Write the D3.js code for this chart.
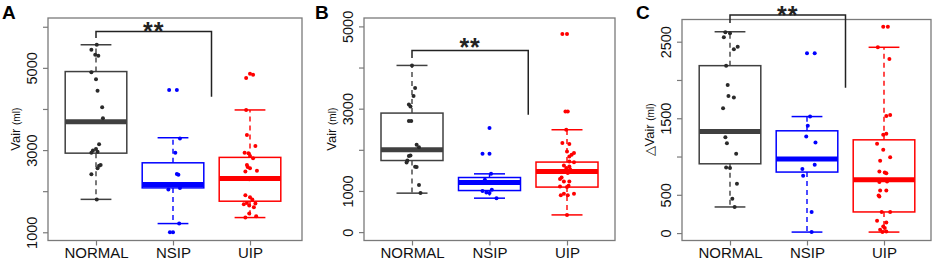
<!DOCTYPE html>
<html>
<head>
<meta charset="utf-8">
<script src="https://cdn.jsdelivr.net/npm/d3@7"></script>
<style>
  body { margin: 0; background: #fff; }
  svg { display: block; font-family: "Liberation Sans", Arial, sans-serif; }
</style>
</head>
<body>
<div id="chart-area"></div>
<script>
/* Data */
var categories = ["NORMAL", "NSIP", "UIP"];
var groupColors = ["#404040", "#0000ff", "#ff0000"];
var pointColors = ["#2a2a2a", "#0000ff", "#ff0000"];

// box stats per group: [lower whisker, Q1, median, Q3, upper whisker]
var boxA = [[1801, 2925, 3689, 4910, 5562], [1212, 2080, 2163, 2690, 3300], [1358, 1756, 2310, 2822, 3976]];
var boxB = [[947, 1740, 2000, 2893, 4051], [825, 1010, 1205, 1327, 1416], [418, 1094, 1474, 1702, 2488]];
var boxC = [[341, 905, 1327, 2187, 2630], [13, 797, 967, 1336, 1522], [13, 276, 697, 1218, 2427]];

// points per group: [value, horizontal jitter in category steps]
var pointsA = [
  [[5560,0.01],[5440,-0.06],[5317,-0.01],[5293,0.03],[4895,-0.06],[4720,0.0],[4446,0.02],[4040,0.08],[3772,0.09],[3144,0.04],[3024,0.0],[2990,-0.04],[2935,-0.06],[2960,0.02],[2634,0.06],[2617,0.04],[2560,0.02],[2412,-0.06],[1800,0.01]],
  [[4463,-0.05],[4463,0.05],[3283,0.09],[2932,0.03],[2415,0.05],[2400,0.07],[2080,0.09],[2038,-0.06],[1212,0.08],[1000,-0.04],[1000,0.0]],
  [[4854,0.0],[4830,0.04],[4756,-0.05],[3976,-0.05],[3366,-0.04],[3098,0.07],[2935,-0.07],[2920,-0.02],[2854,0.0],[2800,0.04],[2634,-0.04],[2590,-0.03],[2560,0.0],[2496,0.09],[2480,-0.06],[2293,-0.01],[1900,-0.06],[1852,0.0],[1795,0.03],[1715,-0.04],[1700,0.07],[1683,-0.08],[1650,-0.01],[1610,0.05],[1456,-0.01],[1358,-0.06],[1390,0.08]]
];
var pointsB = [
  [[4050,0],[3500,0.04],[3310,0.02],[3100,-0.04],[3050,-0.02],[2700,-0.04],[2700,-0.01],[2122,0.06],[2065,0.09],[1865,-0.02],[1850,-0.04],[1740,-0.06],[1690,-0.07],[1590,0.04],[1580,0.06],[1148,0.09],[950,0.11]],
  [[2528,0],[1903,-0.09],[1903,0],[1416,0.02],[1270,-0.06],[1030,0.03],[1000,-0.09],[960,-0.04],[950,0],[825,0.09]],
  [[4815,-0.06],[4815,0],[2932,-0.02],[2932,0.01],[2488,-0.01],[2164,-0.06],[2140,0.03],[1960,0],[1920,0.09],[1880,0.06],[1840,0.03],[1717,0.03],[1700,0.09],[1620,-0.04],[1595,0.03],[1556,-0.01],[1530,0.04],[1435,0.01],[1328,-0.07],[1290,-0.09],[1230,-0.04],[1230,0.03],[1125,0.02],[1110,-0.09],[1095,0],[935,-0.04],[935,0.09],[895,-0.08],[895,0.01],[418,0]]
];
var pointsC = [
  [[2622,-0.06],[2609,0],[2557,-0.08],[2400,0.05],[2435,0.1],[2187,-0.05],[1935,-0.03],[1792,-0.02],[1770,0.05],[1631,-0.09],[1253,-0.06],[1175,-0.04],[1036,0.08],[857,-0.05],[849,0],[644,0.09],[449,0.03],[341,0.06]],
  [[2349,0],[2349,0.1],[1522,0.04],[1401,0.01],[1261,-0.01],[1183,0.11],[892,0.1],[836,-0.06],[749,-0.05],[275,0.06],[15,0.06]],
  [[2696,-0.01],[2696,0.05],[2427,-0.08],[2274,0.07],[1531,0.03],[1544,0.08],[1283,-0.01],[1296,0.03],[1166,-0.09],[1088,-0.01],[992,0.08],[944,-0.05],[805,-0.06],[792,0.01],[783,0.03],[666,-0.06],[674,0.04],[557,-0.05],[557,0.03],[492,-0.07],[479,-0.06],[275,-0.03],[275,0.08],[160,-0.09],[139,0.03],[87,-0.01],[66,0.01],[44,-0.05],[22,0.03],[13,-0.02]]
];

// y ticks and which of them carry a label
var ticksA = [1000, 2000, 3000, 4000, 5000, 6000], tickLabelsA = [1000, 3000, 5000];
var ticksB = [0, 1000, 2000, 3000, 4000, 5000], tickLabelsB = [0, 1000, 3000, 5000];
var ticksC = [0, 500, 1000, 1500, 2000, 2500], tickLabelsC = [0, 500, 1500, 2500];

// significance bracket: [top, left leg end, right leg end] in data units
var bracketA = [5886, 5725, 4299];
var bracketB = [4416, 4231, 2853];
var bracketC = [2848, 2744, 1900];

/* Panel layout */
var panels = [
  { letter: "A", letterX: 2, label: "Vair ", box: boxA, points: pointsA, ticks: ticksA, labels: tickLabelsA, bracket: bracketA,
    domain: [800, 6213], left: 48, right: 302, top: 18, bottom: 240.5, centers: [96, 250], starGap: 2.5 },
  { letter: "B", letterX: 315, label: "Vair ", box: boxB, points: pointsB, ticks: ticksB, labels: tickLabelsB, bracket: bracketB,
    domain: [-204, 5204], left: 364, right: 615, top: 18, bottom: 240.5, centers: [412, 567], starGap: 5.5 },
  { letter: "C", letterX: 636, label: "\u25B3Vair ", box: boxC, points: pointsC, ticks: ticksC, labels: tickLabelsC, bracket: bracketC,
    domain: [-97, 2790], left: 682, right: 931, top: 19.5, bottom: 240.5, centers: [730, 884], starGap: 1.8 }
];

var svg = d3.select("#chart-area").append("svg")
  .attr("width", 934)
  .attr("height", 260);

var frameColor = "#7a7a7a";

panels.forEach(function(p) {
  var g = svg.append("g");

  var x = d3.scalePoint().domain(categories).range(p.centers);
  var y = d3.scaleLinear().domain(p.domain).range([p.bottom, p.top]);
  var bw = 0.8 * x.step();

  /* Boxes */
  categories.forEach(function(cat, i) {
    var s = p.box[i];
    var cx = x(cat);
    var col = groupColors[i];
    var bg = g.append("g");
    // dashed whiskers
    bg.append("line")
      .attr("x1", cx).attr("x2", cx)
      .attr("y1", y(s[3])).attr("y2", y(s[4]))
      .attr("stroke", col).attr("stroke-width", 1.4).attr("stroke-dasharray", "5,4");
    bg.append("line")
      .attr("x1", cx).attr("x2", cx)
      .attr("y1", y(s[1])).attr("y2", y(s[0]))
      .attr("stroke", col).attr("stroke-width", 1.4).attr("stroke-dasharray", "5,4");
    // whisker caps
    [s[0], s[4]].forEach(function(v) {
      bg.append("line")
        .attr("x1", cx - bw / 4).attr("x2", cx + bw / 4)
        .attr("y1", y(v)).attr("y2", y(v))
        .attr("stroke", col).attr("stroke-width", 1.5);
    });
    // box
    bg.append("rect")
      .attr("x", cx - bw / 2)
      .attr("y", y(s[3]))
      .attr("width", bw)
      .attr("height", y(s[1]) - y(s[3]))
      .attr("fill", "none")
      .attr("stroke", col).attr("stroke-width", 1.5);
    // median
    bg.append("line")
      .attr("x1", cx - bw / 2).attr("x2", cx + bw / 2)
      .attr("y1", y(s[2])).attr("y2", y(s[2]))
      .attr("stroke", col).attr("stroke-width", 5);
  });

  /* Jittered points */
  categories.forEach(function(cat, i) {
    g.selectAll(null)
      .data(p.points[i])
      .enter()
      .append("circle")
        .attr("cx", function(d) { return x(cat) + d[1] * x.step(); })
        .attr("cy", function(d) { return y(d[0]); })
        .attr("r", 2)
        .attr("fill", pointColors[i]);
  });

  /* Frame */
  g.append("rect")
    .attr("x", p.left).attr("y", p.top)
    .attr("width", p.right - p.left).attr("height", p.bottom - p.top)
    .attr("fill", "none").attr("stroke", frameColor).attr("stroke-width", 1.3);

  /* Y axis (labels rotated like base R) */
  var yAxisCall = d3.axisLeft(y)
    .tickValues(p.ticks)
    .tickSize(5)
    .tickFormat(function(d) { return p.labels.indexOf(d) >= 0 ? d : ""; });

  var ya = g.append("g")
    .attr("transform", "translate(" + p.left + ",0)")
    .call(yAxisCall);
  ya.select(".domain").remove();
  ya.selectAll("line").attr("stroke", frameColor).attr("stroke-width", 1.2);
  ya.selectAll("text")
    .attr("x", null).attr("dy", null)
    .attr("transform", "translate(-11,0) rotate(-90)")
    .attr("text-anchor", "middle")
    .attr("font-size", "14.5px")
    .attr("font-family", "Liberation Sans, Arial, sans-serif")
    .attr("fill", "#111");

  /* X axis */
  var xAxisCall = d3.axisBottom(x).tickSize(5).tickPadding(2);
  var xa = g.append("g")
    .attr("transform", "translate(0," + p.bottom + ")")
    .call(xAxisCall);
  xa.select(".domain").remove();
  xa.selectAll("line").attr("stroke", frameColor).attr("stroke-width", 1.2);
  xa.selectAll("text")
    .attr("y", 17.5).attr("dy", null)
    .attr("font-size", "15px")
    .attr("font-family", "Liberation Sans, Arial, sans-serif")
    .attr("fill", "#111");

  /* Y label */
  var yl = g.append("text")
    .attr("transform", "translate(" + (p.left - 28) + "," + ((p.top + p.bottom) / 2) + ") rotate(-90)")
    .attr("text-anchor", "middle")
    .attr("fill", "#111");
  yl.append("tspan").attr("font-size", "13px").text(p.label);
  yl.append("tspan").attr("font-size", "10px").text("(ml)");

  /* Panel letter */
  g.append("text")
    .attr("x", p.letterX).attr("y", 18.5)
    .attr("font-size", "19px").attr("font-weight", "bold")
    .attr("fill", "#000")
    .text(p.letter);

  /* Significance bracket between NORMAL and NSIP/UIP */
  var bx1 = x(categories[0]);
  var bx2 = x(categories[1]) + x.step() / 2;
  var b = p.bracket;
  g.append("path")
    .attr("d", "M" + bx1 + "," + y(b[1]) + "V" + y(b[0]) + "H" + bx2 + "V" + y(b[2]))
    .attr("fill", "none").attr("stroke", "#222").attr("stroke-width", 1.5);
  g.append("text")
    .attr("x", (bx1 + bx2) / 2)
    .attr("y", y(b[0]) - p.starGap + 11)
    .attr("text-anchor", "middle")
    .attr("font-size", "25px")
    .attr("font-weight", "bold")
    .attr("letter-spacing", "1px")
    .attr("fill", "#222")
    .text("**");
});
</script>
</body>
</html>
